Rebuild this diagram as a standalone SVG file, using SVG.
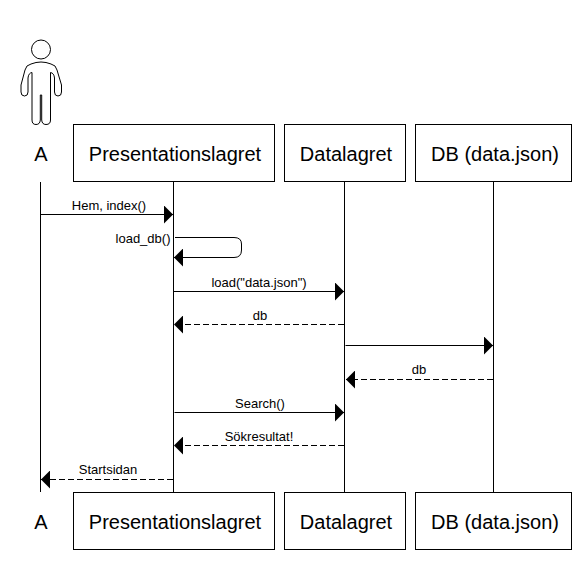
<svg xmlns="http://www.w3.org/2000/svg" width="587" height="561" viewBox="0 0 587 561">
<style>
text{font-family:"Liberation Sans",Arial,sans-serif;fill:#000;text-anchor:middle}
.n{font-size:20px}
.m{font-size:13px}
.b{fill:#fff;stroke:#000;stroke-width:1}
.l{fill:none;stroke:#000;stroke-width:1}
.d{stroke-dasharray:6 3}
</style>
<defs>
<marker id="ah" markerUnits="userSpaceOnUse" viewBox="0 0 9 18" refX="9" refY="9" markerWidth="9" markerHeight="18" orient="auto-start-reverse"><path d="M0 0L9 9L0 18Z" fill="#000"/></marker>
</defs>
<rect width="587" height="561" fill="#fff"/>
<g id="connectors">
<path class="l" d="M40.5 182V492"/>
<path class="l" d="M173.500 182V492"/>
<path class="l" d="M344.500 182V492"/>
<path class="l" d="M493.500 182V492"/>
<path class="l" marker-end="url(#ah)" d="M41 214.500H173"/>
<path class="l" marker-end="url(#ah)" d="M175 237.500H234Q241.500 237.500 241.500 244V250Q241.500 257.500 234 257.500H174"/>
<path class="l" marker-end="url(#ah)" d="M174 291.500H344"/>
<path class="l d" marker-end="url(#ah)" d="M344 324.500H174"/>
<path class="l" marker-end="url(#ah)" d="M345.500 345.500H493"/>
<path class="l d" marker-end="url(#ah)" d="M493 379.500H346"/>
<path class="l" marker-end="url(#ah)" d="M174.500 412.500H344"/>
<path class="l d" marker-end="url(#ah)" d="M344 445.500H174"/>
<path class="l d" marker-end="url(#ah)" d="M173 479.500H41"/>
<text class="m" x="109" y="210">Hem, index()</text>
<text class="m" x="143" y="243">load_db()</text>
<text class="m" x="259" y="287">load("data.json")</text>
<text class="m" x="260" y="320">db</text>
<text class="m" x="419" y="374">db</text>
<text class="m" x="260" y="408">Search()</text>
<text class="m" x="259" y="441">Sökresultat!</text>
<text class="m" x="108" y="474">Startsidan</text>
</g>
<g id="actor-a">
<circle class="l" cx="41" cy="49.500" r="9.500"/>
<path class="l" d="M31 64Q41 60 51 64Q56 65 57 70L61.500 85V92Q61.500 96 58 96Q54.500 96 54.500 92V78Q54 73 50.500 72.500V120Q50.500 124.500 46 124.500Q42 124.500 41.700 120V95H40.300V120Q40 124.500 36 124.500Q32 124.500 32 120V72.500Q28.500 73 28 78V92Q28 96 24.500 96Q21 96 21 92V85L25 70Q26 65 31 64Z"/>
<text class="n" x="41" y="161">A</text>
</g>
<g id="actor-a-bottom"><text class="n" x="41" y="529">A</text></g>
<g id="presentationslagret"><rect class="b" x="73.500" y="124.500" width="201" height="57"/><text class="n" x="175" y="161">Presentationslagret</text></g>
<g id="datalagret"><rect class="b" x="284.500" y="124.500" width="121" height="57"/><text class="n" x="346" y="161">Datalagret</text></g>
<g id="db"><rect class="b" x="415.500" y="124.500" width="156" height="57"/><text class="n" x="495" y="161">DB (data.json)</text></g>
<g id="presentationslagret-bottom"><rect class="b" x="73.500" y="492.500" width="201" height="57"/><text class="n" x="175" y="529">Presentationslagret</text></g>
<g id="datalagret-bottom"><rect class="b" x="284.500" y="492.500" width="121" height="57"/><text class="n" x="346" y="529">Datalagret</text></g>
<g id="db-bottom"><rect class="b" x="415.500" y="492.500" width="156" height="57"/><text class="n" x="495" y="529">DB (data.json)</text></g>
</svg>
